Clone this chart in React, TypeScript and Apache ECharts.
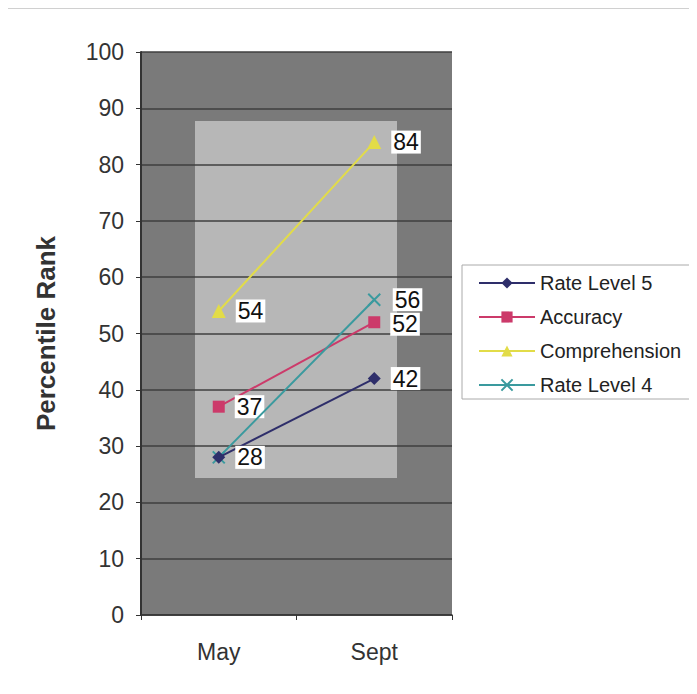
import React, { useEffect, useRef } from "react";
import * as echarts from "echarts";

const categories = ["May", "Sept"];
const rateLevel5 = [28, 42];
const accuracy = [37, 52];
const comprehension = [54, 84];
const rateLevel4 = [28, 56];
const seriesNames = ["Rate Level 5", "Accuracy", "Comprehension", "Rate Level 4"];

const FONT = "Liberation Sans, Arial, sans-serif";

export default function App() {
  const ref = useRef<HTMLDivElement>(null);
  useEffect(() => {
    if (!ref.current) return;
    const chart = echarts.init(ref.current, null, { renderer: "svg" });
    const label = {
      show: true,
      position: "right" as const,
      distance: 10,
      backgroundColor: "#ffffff",
      color: "#111",
      fontSize: 23,
      lineHeight: 22,
      fontFamily: FONT,
      padding: [1, 2, 0, 2],
    };
    // Rate Level 4's May label sits exactly under Rate Level 5's one
    const rl4Data = rateLevel4.map((v, i) =>
      i === 0 ? { value: v, label: { show: false } } : v
    );
    const accData = accuracy.map((v, i) =>
      i === 1 ? { value: v, label: { offset: [0, 2] } } : v
    );
    chart.setOption({
      animation: false,
      backgroundColor: "#ffffff",
      textStyle: { fontFamily: FONT },
      grid: { left: 133, top: 44, width: 311, height: 563, containLabel: false },
      graphic: [
        { type: "line", shape: { x1: -8, y1: 0, x2: 689, y2: 0 }, style: { stroke: "#d0d0d0", lineWidth: 2 }, z: -30 },
        { type: "line", shape: { x1: -3, y1: 2, x2: -3, y2: 686 }, style: { stroke: "#999", lineWidth: 2 }, z: -30 },
        { type: "rect", shape: { x: 133, y: 44, width: 311, height: 563 }, style: { fill: "#7a7a7a" }, z: -20 },
        { type: "rect", shape: { x: 187, y: 113, width: 202, height: 357 }, style: { fill: "#b7b7b7" }, z: -10 },
        { type: "rect", shape: { x: 454, y: 257, width: 240, height: 134 }, style: { fill: "#ffffff", stroke: "#aaa", lineWidth: 1 }, z: -10 },
      ],
      legend: {
        orient: "vertical",
        left: 470,
        top: 265,
        padding: 0,
        itemWidth: 56,
        itemHeight: 14,
        itemGap: 14,
        textStyle: { fontSize: 20, color: "#222", fontFamily: FONT },
        data: seriesNames,
      },
      xAxis: {
        type: "category",
        data: categories,
        boundaryGap: true,
        axisLine: { show: true, lineStyle: { color: "#333", width: 1.5 } },
        axisTick: { show: true, length: 5, lineStyle: { color: "#333" } },
        axisLabel: { fontSize: 23, color: "#333", margin: 25, fontFamily: FONT },
        splitLine: { show: false },
      },
      yAxis: {
        type: "value",
        min: 0,
        max: 100,
        interval: 10,
        name: "Percentile Rank",
        nameLocation: "middle",
        nameGap: 82,
        nameTextStyle: { fontSize: 26, fontWeight: "bold", color: "#333", fontFamily: FONT },
        axisLine: { show: true, lineStyle: { color: "#333", width: 2 } },
        axisTick: { show: true, length: 5, lineStyle: { color: "#333" } },
        axisLabel: { fontSize: 23, color: "#333", margin: 17, fontFamily: FONT },
        splitLine: { show: true, lineStyle: { color: "#3f3f3f", width: 1.5 } },
      },
      series: [
        {
          name: seriesNames[0],
          type: "line",
          data: rateLevel5,
          symbol: "diamond",
          symbolSize: 13,
          color: "#2e2e6a",
          lineStyle: { width: 2, color: "#2e2e6a" },
          label,
          z: 5,
        },
        {
          name: seriesNames[1],
          type: "line",
          data: accData,
          symbol: "rect",
          symbolSize: 12,
          color: "#cc3a6a",
          lineStyle: { width: 2, color: "#cc3a6a" },
          label,
          z: 3,
        },
        {
          name: seriesNames[2],
          type: "line",
          data: comprehension,
          symbol: "triangle",
          symbolSize: 14,
          color: "#e2dc48",
          lineStyle: { width: 2, color: "#e2dc48" },
          label,
          z: 3,
        },
        {
          name: seriesNames[3],
          type: "line",
          data: rl4Data,
          symbol: "path://M0,0L10,10M10,0L0,10",
          symbolSize: 12,
          color: "#3a9a9e",
          itemStyle: { color: "none", borderColor: "#3a9a9e", borderWidth: 2 },
          lineStyle: { width: 2, color: "#3a9a9e" },
          label,
          z: 4,
        },
      ],
    });
    return () => chart.dispose();
  }, []);
  return <div ref={ref} style={{ width: 689, height: 686 }} />;
}
